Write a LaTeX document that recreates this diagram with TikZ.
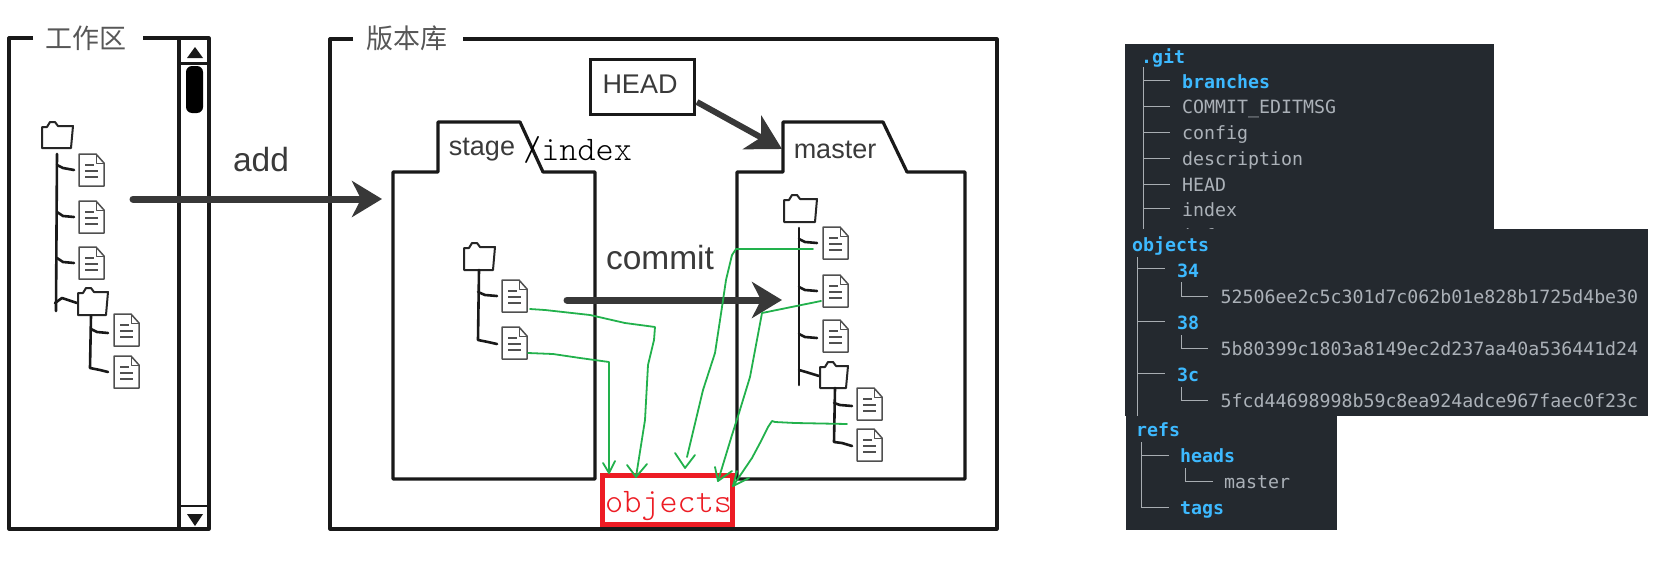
\documentclass[tikz,border=0pt]{standalone}
\usepackage{fontspec}
\setmainfont{Liberation Sans}
\setmonofont{DejaVu Sans Mono}
\newfontfamily\cjkfont{Noto Sans CJK SC}
\newfontfamily\lmmono{Latin Modern Mono Light}
\usetikzlibrary{arrows.meta}
\definecolor{panel}{HTML}{24292F}
\definecolor{dirblue}{HTML}{3DB9FF}
\definecolor{filegray}{HTML}{ABB1B8}
\definecolor{treegray}{HTML}{A8ADB2}
\definecolor{inkgray}{HTML}{3A3A3A}
\definecolor{icongray}{HTML}{505050}
\definecolor{annogreen}{HTML}{22B14C}
\definecolor{annored}{HTML}{ED1C24}
\tikzset{
  frameline/.style={draw=black!90,line width=3.2pt,line join=round},
  twig/.style={draw=black!90,line width=2.6pt,line cap=round,line join=round},
  iconline/.style={draw=icongray,line width=1.5pt,line join=round},
  bigarrow/.style={draw=black!78,line width=7pt,line cap=round,-{Stealth[length=30pt,width=36pt,inset=9pt]}},
  headarrow/.style={draw=black!78,line width=6pt,-{Stealth[length=34pt,width=38pt,inset=10pt]}},
  labeltext/.style={text=inkgray,inner sep=0pt,font=\fontsize{27}{30}\selectfont},
  cmdtext/.style={text=inkgray,inner sep=0pt,font=\fontsize{33.5}{36}\selectfont},
  cjktext/.style={text=inkgray!85,inner sep=0pt,font=\cjkfont\fontsize{27}{30}\selectfont},
  monotext/.style={inner sep=0pt,anchor=base west,font=\lmmono\fontsize{34.5}{36}\selectfont},
  green line/.style={draw=annogreen,line width=1.8pt,line join=round,line cap=round},
  treeline/.style={draw=treegray,line width=1pt},
  filetext/.style={anchor=west,inner sep=0pt,text height=13pt,text depth=0pt,text=filegray,font=\ttfamily\fontsize{18.25}{20}\selectfont},
  dirtext/.style={anchor=west,inner sep=0pt,text height=13pt,text depth=0pt,text=dirblue,font=\ttfamily\bfseries\fontsize{18.25}{20}\selectfont},
}
\newcommand{\fileicon}[3]{%
  \begin{scope}[shift={(#2,#3)}]
    \coordinate (#1) at (0,16);
    \draw[iconline,fill=white] (0,0) -- (17,0) -- (25,9) -- (25,32) -- (0,32) -- cycle;
    \draw[iconline,line width=1pt] (17,0) -- (17,9) -- (25,9);
    \draw[iconline,line width=1.6pt] (6,11) -- (15,11) (6,17) -- (19,17) (6,23) -- (19,23);
  \end{scope}}
\newcommand{\foldericon}[5]{% name x y w h
  \begin{scope}[shift={(#2,#3)}]
    \coordinate (#1) at (#4/2,#5);
    \draw[iconline,draw=black!85,line width=2pt,fill=white] (1,5) -- (6,5) -- (9,0) -- (14,0) -- (17,4) -- (#4,4) -- (#4-2,#5) -- (1,#5) -- cycle;
  \end{scope}}
\begin{document}
\begin{tikzpicture}[x=1pt,y=-1pt]
\useasboundingbox (0,0) rectangle (1660,562);
% working area frame
\draw[frameline] (33,38) -- (9,38) -- (9,529) -- (209,529) -- (209,38) -- (143,38);
\draw[frameline] (179,38) -- (179,529);
\draw[frameline,line width=3pt] (179,63) -- (209,63);
\draw[frameline,line width=2pt] (179,506) -- (209,506);
\fill[black,rounded corners=6pt] (186,66) rectangle (203,113);
\fill[black!90] (187,58) -- (195,47) -- (203,58) -- cycle;
\fill[black!90] (187,514) -- (203,514) -- (195,526) -- cycle;
\node[cjktext] (wsTitle) at (86,38) {工作区};
% repository frame
\draw[frameline] (353,39) -- (330,39) -- (330,529) -- (997,529) -- (997,39) -- (463,39);
\node[cjktext] (repoTitle) at (407,38) {版本库};
% head
\node[draw=black!90,line width=3pt,outer sep=0pt,minimum width=104pt,minimum height=55pt,inner sep=0pt,anchor=north west] (headBox) at (590,59) {};
\node[labeltext] (headText) at (640,84) {HEAD};
% stage tab
\draw[frameline] (393,479) -- (393,172) -- (438,172) -- (438,122) -- (520,122) -- (543,172) -- (595,172) -- (595,479) -- cycle;
\node[labeltext] (stageText) at (482,150) {stage};
\node[monotext] (indexText) at (523,160) {/index};
% master tab
\draw[frameline] (737,479) -- (737,172) -- (783,172) -- (783,122) -- (883,122) -- (907,172) -- (965,172) -- (965,479) -- cycle;
\node[labeltext] (masterText) at (835,150) {master};
% working tree
\foldericon{wsFolder}{41}{122}{32}{26}
\draw[twig] (57,154) -- (56,311);
\draw[twig] (57,165) -- (63,168) -- (74,170) (57,212) -- (63,216) -- (74,217) (57,258) -- (63,262) -- (74,263) (55,303) -- (62,298) -- (77,303);
\fileicon{wsF1}{79}{154}
\fileicon{wsF2}{79}{201}
\fileicon{wsF3}{79}{247}
\foldericon{wsSub}{77}{288}{31}{27}
\draw[twig] (91,316) -- (90,368) -- (100,370) -- (108,372) (91,329) -- (97,332) -- (108,333);
\fileicon{wsF4}{114}{314}
\fileicon{wsF5}{114}{356}
% stage tree
\foldericon{stFolder}{463}{243}{32}{27}
\draw[twig] (479,270) -- (478,340) -- (488,342) -- (497,344) (478,292) -- (485,295) -- (497,296);
\fileicon{stF1}{502}{280}
\fileicon{stF2}{502}{327}
% master tree
\foldericon{mFolder}{783}{195}{34}{27}
\draw[twig] (799,228) -- (799,385);
\draw[twig] (799,239) -- (805,242) -- (817,243) (799,287) -- (805,290) -- (817,291) (799,334) -- (805,337) -- (817,338) (799,370) -- (806,372) -- (819,376);
\fileicon{mF1}{823}{227}
\fileicon{mF2}{823}{275}
\fileicon{mF3}{823}{320}
\foldericon{mSub}{819}{362}{29}{26}
\draw[twig] (835,388) -- (834,442) -- (842,443) -- (852,446) (834,403) -- (840,405) -- (852,406);
\fileicon{mF4}{857}{388}
\fileicon{mF5}{857}{429}
% big arrows
\coordinate (addFrom) at (133,199);
\coordinate (addTo) at (382,199);
\coordinate (commitFrom) at (567,300);
\coordinate (commitTo) at (782,300);
\coordinate (headFrom) at (697,102);
\coordinate (headTo) at (782,149);
\draw[bigarrow] (addFrom) -- (addTo);
\draw[bigarrow] (commitFrom) -- (commitTo);
\draw[headarrow] (headFrom) -- (headTo);
\node[cmdtext] (addText) at (261,160) {add};
\node[cmdtext] (commitText) at (660,258) {commit};
% objects box
\node[draw=annored,line width=5pt,outer sep=0pt,minimum width=130pt,minimum height=49pt,inner sep=0pt,anchor=north west,fill=white] (objBox) at (602.5,475.5) {};
\node[monotext,text=annored] (objText) at (605,512) {objects};
% green annotations
\coordinate (g1s) at (530,309); \coordinate (g1e) at (636,477);
\coordinate (g2s) at (528,353); \coordinate (g2e) at (609,473);
\coordinate (g3s) at (813,249); \coordinate (g3e) at (685,468);
\coordinate (g4s) at (821,301); \coordinate (g4e) at (718,481);
\coordinate (g5s) at (847,424); \coordinate (g5e) at (733,486);
\draw[green line] (g1s) -- (545,310) -- (590,315) -- (625,323) -- (655,327) -- (654,340) -- (648,365) -- (645,420) -- (g1e);
\draw[green line] (627,465) -- (g1e) -- (647,464);
\draw[green line] (g2s) -- (553,354) -- (580,358) -- (609,362) -- (609,421) -- (g2e);
\draw[green line] (603,463) -- (g2e) -- (615,461);
\draw[green line] (g3s) -- (736,249) -- (732,255) -- (726,280) -- (722,307) -- (715,353) -- (703,390) -- (687,457);
\draw[green line] (675,453) -- (g3e) -- (695,455);
\draw[green line] (g4s) -- (762,313) -- (750,377) -- (739,413) -- (732,435) -- (g4e);
\draw[green line] (715,467) -- (g4e) -- (732,471);
\draw[green line] (g5s) -- (795,423) -- (775,422) -- (772,421) -- (768,427) -- (760,443) -- (752,458) -- (g5e);
\draw[green line] (737,471) -- (g5e) -- (749,478);
% dark panels
\fill[panel] (1125,44) rectangle (1494,229);
\node[filetext] (infoText) at (1182,236) {info};
\fill[panel] (1125,229) rectangle (1648,416);
\fill[panel] (1126,416) rectangle (1337,530);
% panel 1
\node[dirtext] (gitDir) at (1141,57) {.git};
\draw[treeline] (1143,67) -- (1143,229);
\foreach \yy in {80,106,132,158,184,208} \draw[treeline] (1143,\yy) -- (1170,\yy);
\node[dirtext] (branchesDir) at (1182,82) {branches};
\node[filetext] (commitMsg) at (1182,107) {COMMIT\_EDITMSG};
\node[filetext] (configFile) at (1182,133) {config};
\node[filetext] (descFile) at (1182,159) {description};
\node[filetext] (headFile) at (1182,185) {HEAD};
\node[filetext] (indexFile) at (1182,210) {index};
% panel 2
\node[dirtext] (objectsDir) at (1132,245) {objects};
\draw[treeline] (1137,257) -- (1137,416);
\foreach \yy in {268,321,373} \draw[treeline] (1137,\yy) -- (1165,\yy);
\node[dirtext] (d34) at (1177,271) {34};
\node[dirtext] (d38) at (1177,323) {38};
\node[dirtext] (d3c) at (1177,375) {3c};
\draw[treeline] (1181,282) -- (1181,296) -- (1208,296);
\draw[treeline] (1181,335) -- (1181,348) -- (1208,348);
\draw[treeline] (1181,387) -- (1181,400) -- (1208,400);
\node[filetext] (h34) at (1220.5,297) {52506ee2c5c301d7c062b01e828b1725d4be30};
\node[filetext] (h38) at (1220.5,349) {5b80399c1803a8149ec2d237aa40a536441d24};
\node[filetext] (h3c) at (1220.5,401) {5fcd44698998b59c8ea924adce967faec0f23c};
% panel 3
\node[dirtext] (refsDir) at (1136,430) {refs};
\draw[treeline] (1141,442) -- (1141,507) -- (1169,507);
\draw[treeline] (1141,455) -- (1169,455);
\node[dirtext] (headsDir) at (1180,456) {heads};
\draw[treeline] (1185,468) -- (1185,481) -- (1213,481);
\node[filetext] (masterFile) at (1224,482) {master};
\node[dirtext] (tagsDir) at (1180,508) {tags};
\end{tikzpicture}
\end{document}
